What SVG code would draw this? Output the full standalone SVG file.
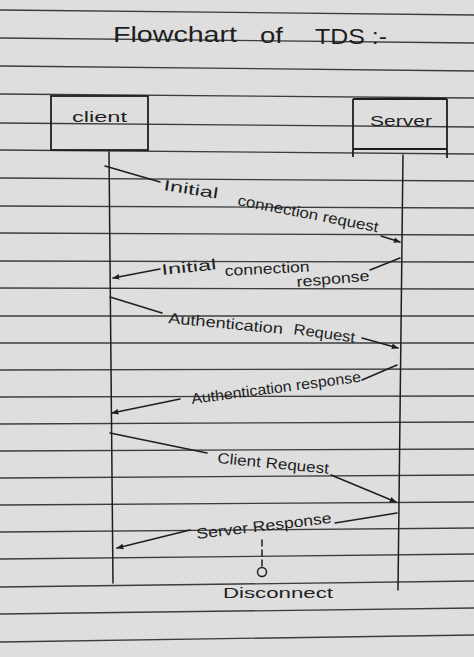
<svg xmlns="http://www.w3.org/2000/svg" width="474" height="657" viewBox="0 0 474 657">
<defs>
<marker id="ah" viewBox="0 0 10 10" refX="9" refY="5" markerWidth="7" markerHeight="7" orient="auto-start-reverse" markerUnits="userSpaceOnUse">
<path d="M0,1 L10,5 L0,9 Z" fill="#1e1e1e"/>
</marker>
<style>
.rule{stroke:#3c3c3c;stroke-width:1.3;fill:none}
.ink{stroke:#1e1e1e;stroke-width:1.5;fill:none;stroke-linecap:round}
.box{stroke:#1e1e1e;stroke-width:1.8;fill:none}
.t{font-family:"Liberation Sans","DejaVu Sans",sans-serif;fill:#1e1e1e;font-size:15px}
.title{font-family:"Liberation Sans","DejaVu Sans",sans-serif;fill:#1e1e1e;font-size:22px}
</style>
</defs>
<rect x="0" y="0" width="474" height="657" fill="#dedede"/>
<g id="paper-lines">
<line class="rule" x1="0" y1="10" x2="474" y2="15"/>
<line class="rule" x1="0" y1="38" x2="474" y2="43"/>
<line class="rule" x1="0" y1="66" x2="474" y2="71"/>
<line class="rule" x1="0" y1="94" x2="474" y2="98"/>
<line class="rule" x1="0" y1="123" x2="474" y2="127"/>
<line class="rule" x1="0" y1="150" x2="474" y2="154"/>
<line class="rule" x1="0" y1="178" x2="474" y2="181"/>
<line class="rule" x1="0" y1="206" x2="474" y2="208"/>
<line class="rule" x1="0" y1="233" x2="474" y2="235"/>
<line class="rule" x1="0" y1="261" x2="474" y2="262"/>
<line class="rule" x1="0" y1="288" x2="474" y2="289"/>
<line class="rule" x1="0" y1="316" x2="474" y2="316"/>
<line class="rule" x1="0" y1="343" x2="474" y2="343"/>
<line class="rule" x1="0" y1="370" x2="474" y2="369"/>
<line class="rule" x1="0" y1="397" x2="474" y2="396"/>
<line class="rule" x1="0" y1="424" x2="474" y2="422"/>
<line class="rule" x1="0" y1="451" x2="474" y2="449"/>
<line class="rule" x1="0" y1="478" x2="474" y2="475"/>
<line class="rule" x1="0" y1="505" x2="474" y2="502"/>
<line class="rule" x1="0" y1="532" x2="474" y2="528"/>
<line class="rule" x1="0" y1="559" x2="474" y2="554"/>
<line class="rule" x1="0" y1="587" x2="474" y2="581"/>
<line class="rule" x1="0" y1="614" x2="474" y2="608"/>
<line class="rule" x1="0" y1="642" x2="474" y2="635"/>
</g>
<g id="title">
<text class="title" x="113" y="42" textLength="124" lengthAdjust="spacingAndGlyphs">Flowchart</text>
<text class="title" x="260" y="43" textLength="23" lengthAdjust="spacingAndGlyphs">of</text>
<text class="title" x="315" y="44" font-size="17" textLength="72" lengthAdjust="spacingAndGlyphs">TDS :-</text>
</g>
<g id="client">
<rect class="box" x="51" y="96" width="97" height="54"/>
<text class="t" x="72" y="122" font-size="19" textLength="55" lengthAdjust="spacingAndGlyphs">client</text>
</g>
<g id="server">
<path class="box" d="M353,99 L447,99 M353,99 L353,157 M447,99 L447,158 M353,149 L447,149"/>
<text class="t" x="370" y="126" font-size="17" textLength="62" lengthAdjust="spacingAndGlyphs">Server</text>
</g>
<g id="lifelines">
<line class="ink" x1="109" y1="152" x2="113" y2="583"/>
<line class="ink" x1="403" y1="155" x2="398" y2="590"/>
</g>
<g id="connectors">
<path class="ink" d="M105,166 L160,182 M381,236 L400,242" marker-end="url(#ah)"/>
<path class="ink" d="M400,258 L370,270 M160,269 L113,278" marker-end="url(#ah)"/>
<path class="ink" d="M110,297 L162,313 M362,338 L398,348" marker-end="url(#ah)"/>
<path class="ink" d="M397,365 L362,380 M180,399 L112,413" marker-end="url(#ah)"/>
<path class="ink" d="M110,433 L207,453 M331,475 L396,502" marker-end="url(#ah)"/>
<path class="ink" d="M397,513 L335,523 M190,530 L117,548" marker-end="url(#ah)"/>
</g>
<g id="labels">
<text class="t" transform="translate(163,190) rotate(9)" textLength="55" lengthAdjust="spacingAndGlyphs">Initial</text>
<text class="t" transform="translate(237,205) rotate(11)" textLength="143" lengthAdjust="spacingAndGlyphs">connection request</text>
<text class="t" transform="translate(162,275) rotate(-6)" textLength="55" lengthAdjust="spacingAndGlyphs">Initial</text>
<text class="t" transform="translate(225,276) rotate(-3)" textLength="85" lengthAdjust="spacingAndGlyphs">connection</text>
<text class="t" transform="translate(297,287) rotate(-5)" textLength="73" lengthAdjust="spacingAndGlyphs">response</text>
<text class="t" transform="translate(168,323) rotate(5.5)" textLength="115" lengthAdjust="spacingAndGlyphs">Authentication</text>
<text class="t" transform="translate(293,334) rotate(8)" textLength="62" lengthAdjust="spacingAndGlyphs">Request</text>
<text class="t" font-size="13" transform="translate(192,404) rotate(-7.5)" textLength="171" lengthAdjust="spacingAndGlyphs">Authentication response</text>
<text class="t" transform="translate(217,463) rotate(5.5)" textLength="112" lengthAdjust="spacingAndGlyphs">Client Request</text>
<text class="t" transform="translate(197,539) rotate(-6.8)" textLength="136" lengthAdjust="spacingAndGlyphs">Server Response</text>
</g>
<g id="disconnect">
<line class="ink" x1="262" y1="540" x2="262" y2="566" stroke-dasharray="6,4"/>
<circle cx="262" cy="572" r="4.5" fill="none" stroke="#1e1e1e" stroke-width="1.5"/>
<text class="t" x="223" y="598" font-size="17" textLength="110" lengthAdjust="spacingAndGlyphs">Disconnect</text>
</g>
</svg>
